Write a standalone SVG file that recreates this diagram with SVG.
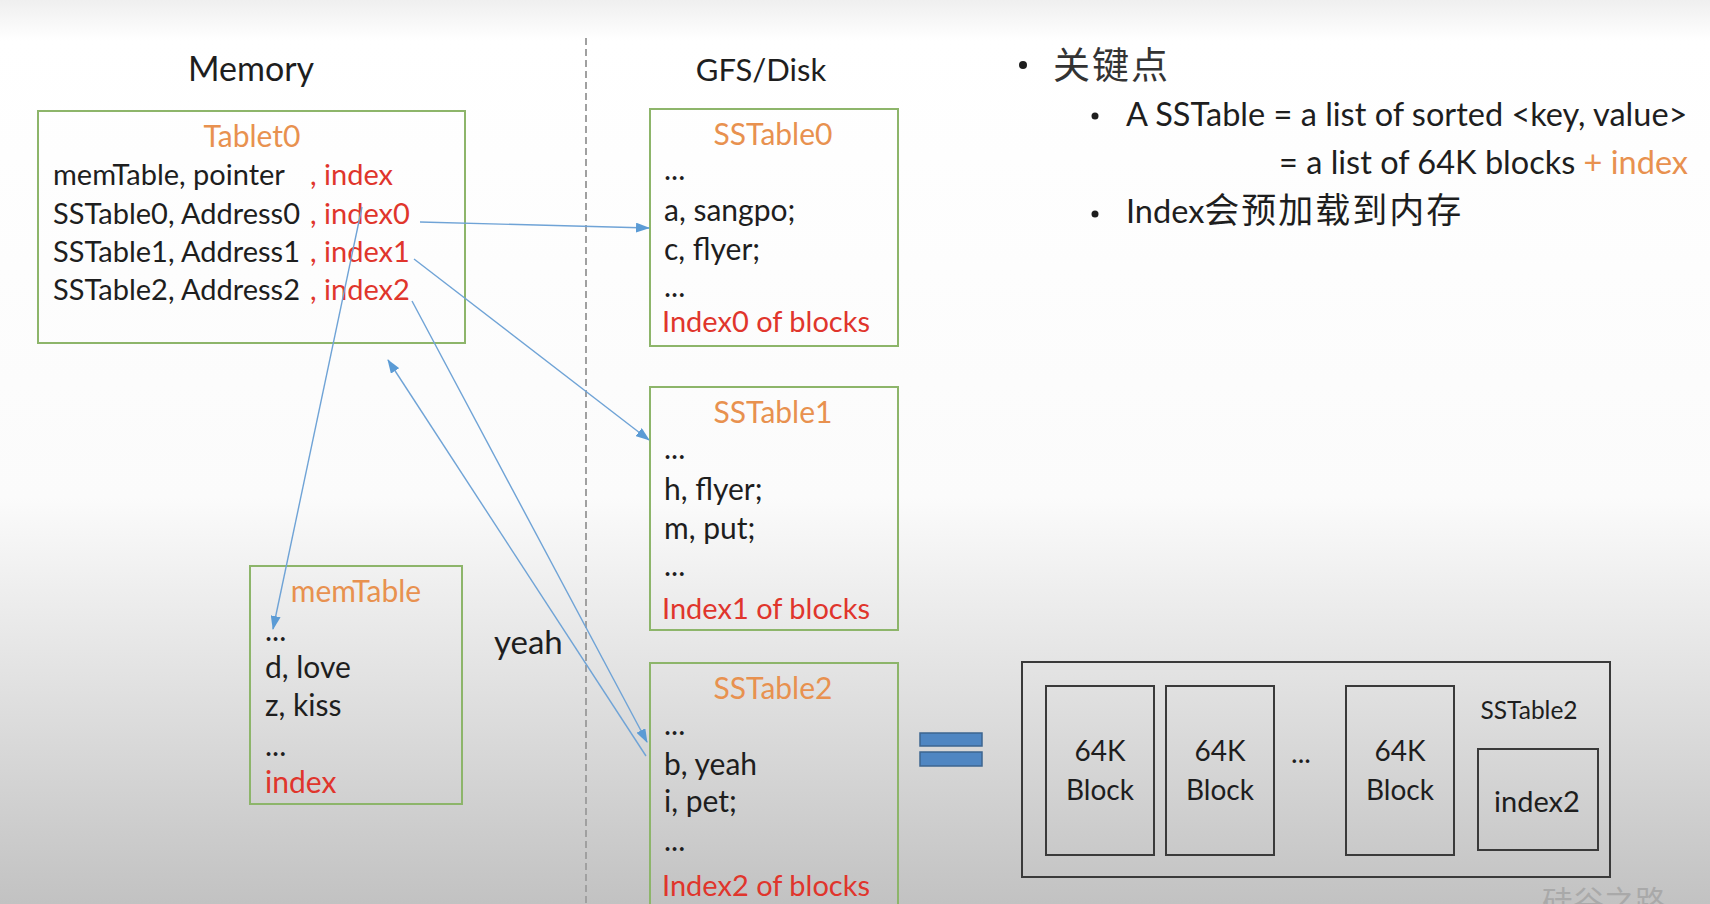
<svg xmlns="http://www.w3.org/2000/svg" width="1710" height="904" viewBox="0 0 1710 904">
<defs>
<linearGradient id="bg" x1="0" y1="0" x2="0" y2="1">
<stop offset="0" stop-color="#efefef"/>
<stop offset="0.045" stop-color="#ffffff"/>
<stop offset="0.55" stop-color="#fbfbfb"/>
<stop offset="0.75" stop-color="#e2e2e2"/>
<stop offset="1" stop-color="#c2c2c2"/>
</linearGradient>
<marker id="ah" markerWidth="14" markerHeight="10" refX="13" refY="5" orient="auto" markerUnits="userSpaceOnUse">
<path d="M0,0 L14,5 L0,10 Z" fill="#5b9bd5"/>
</marker>
<style>
.t{font-family:Lato,"Noto Sans",sans-serif;font-size:30px;fill:#1e1e1e}
.h{font-family:Lato,"Noto Sans",sans-serif;font-size:31px;fill:#1e1e1e}
.n{font-family:Lato,"Noto Sans",sans-serif;font-size:32.5px;fill:#1e1e1e}
.o{fill:#e8914f}
.r{fill:#e0352c}
.g{fill:none;stroke:#8db56a;stroke-width:2}
.k{fill:none;stroke:#3a3a3a;stroke-width:2}
.c{text-anchor:middle}
.s{font-size:29px}
.conn line{stroke:#6fa3d6;stroke-width:1.4;marker-end:url(#ah)}
.cjk{font-family:"Noto Sans CJK SC",sans-serif}
.bar{fill:#4f86c2;stroke:#3d6590;stroke-width:1.5}
</style>
</defs>
<rect width="1710" height="904" fill="url(#bg)"/>
<line x1="586" y1="38" x2="586" y2="904" stroke="#a0a0a0" stroke-width="2" stroke-dasharray="7,4"/>
<text class="h c" x="251" y="81" style="font-size:34px">Memory</text>
<text class="h c" x="761" y="81">GFS/Disk</text>

<g id="tablet0">
<rect class="g" x="38" y="111" width="427" height="232"/>
<text class="t o c" x="252" y="147">Tablet0</text>
<text class="t s" x="53" y="185">memTable, pointer<tspan class="r" x="310">, index</tspan></text>
<text class="t s" x="53" y="224">SSTable0, Address0<tspan class="r" x="310">, index0</tspan></text>
<text class="t s" x="53" y="262">SSTable1, Address1<tspan class="r" x="310">, index1</tspan></text>
<text class="t s" x="53" y="300">SSTable2, Address2<tspan class="r" x="310">, index2</tspan></text>
</g>

<g id="memtable">
<rect class="g" x="250" y="566" width="212" height="238"/>
<text class="t o c" x="356" y="602">memTable</text>
<text class="t" x="265" y="641">...</text>
<text class="t" x="265" y="678">d, love</text>
<text class="t" x="265" y="716">z, kiss</text>
<text class="t" x="265" y="756">...</text>
<text class="t r" x="265" y="793">index</text>
</g>

<text id="yeah" class="h" x="494" y="654" style="font-size:33px">yeah</text>

<g id="sstable0">
<rect class="g" x="650" y="109" width="248" height="237"/>
<text class="t o c" x="773" y="145">SSTable0</text>
<text class="t" x="664" y="180">...</text>
<text class="t" x="664" y="221">a, sangpo;</text>
<text class="t" x="664" y="260">c, flyer;</text>
<text class="t" x="664" y="297">...</text>
<text class="t r s" x="662" y="332">Index0 of blocks</text>
</g>

<g id="sstable1">
<rect class="g" x="650" y="387" width="248" height="243"/>
<text class="t o c" x="773" y="423">SSTable1</text>
<text class="t" x="664" y="459">...</text>
<text class="t" x="664" y="500">h, flyer;</text>
<text class="t" x="664" y="539">m, put;</text>
<text class="t" x="664" y="576">...</text>
<text class="t r s" x="662" y="619">Index1 of blocks</text>
</g>

<g id="sstable2">
<rect class="g" x="650" y="663" width="248" height="260"/>
<text class="t o c" x="773" y="699">SSTable2</text>
<text class="t" x="664" y="735">...</text>
<text class="t" x="664" y="775">b, yeah</text>
<text class="t" x="664" y="812">i, pet;</text>
<text class="t" x="664" y="851">...</text>
<text class="t r s" x="662" y="896">Index2 of blocks</text>
</g>

<g id="equals">
<rect class="bar" x="920" y="733" width="62" height="13"/>
<rect class="bar" x="920" y="752" width="62" height="14"/>
</g>

<g id="sstable2-layout">
<rect class="k" x="1022" y="662" width="588" height="215"/>
<rect class="k" x="1046" y="686" width="108" height="169"/>
<rect class="k" x="1166" y="686" width="108" height="169"/>
<rect class="k" x="1346" y="686" width="108" height="169"/>
<text class="t c" x="1100" y="761" style="font-size:28px">64K</text>
<text class="t c" x="1100" y="800" style="font-size:28px">Block</text>
<text class="t c" x="1220" y="761" style="font-size:28px">64K</text>
<text class="t c" x="1220" y="800" style="font-size:28px">Block</text>
<text class="t c" x="1301" y="763" style="font-size:28px">...</text>
<text class="t c" x="1400" y="761" style="font-size:28px">64K</text>
<text class="t c" x="1400" y="800" style="font-size:28px">Block</text>
<text class="t c" x="1529" y="719" style="font-size:24.5px">SSTable2</text>
<rect class="k" x="1478" y="749" width="120" height="101"/>
<text class="t c" x="1537" y="812" style="font-size:29px">index2</text>
</g>

<g id="notes">
<circle cx="1023" cy="65" r="4" fill="#1e1e1e"/>
<text class="cjk" x="1053" y="79" style="font-size:37px;letter-spacing:2px;fill:#333">关键点</text>
<circle cx="1095" cy="116" r="3.5" fill="#1e1e1e"/>
<text class="n" x="1126" y="126">A SSTable = a list of sorted &lt;key, value&gt;</text>
<text class="n" x="1279" y="174">= a list of 64K blocks <tspan class="o">+ index</tspan></text>
<circle cx="1095" cy="214" r="3.5" fill="#1e1e1e"/>
<text class="n" x="1126" y="223">Index<tspan class="cjk" style="font-size:35px;letter-spacing:2px">会预加载到内存</tspan></text>
</g>

<text id="watermark" class="cjk" x="1542" y="913" style="font-size:31px;fill:#a9a9a9">硅谷之路</text>

<g id="connectors" class="conn">
<line x1="420" y1="222" x2="649" y2="228"/>
<line x1="414" y1="259" x2="649" y2="440"/>
<line x1="412" y1="301" x2="647" y2="742"/>
<line x1="362" y1="207" x2="273" y2="629"/>
<line x1="646" y1="756" x2="388" y2="360"/>
</g>
</svg>
